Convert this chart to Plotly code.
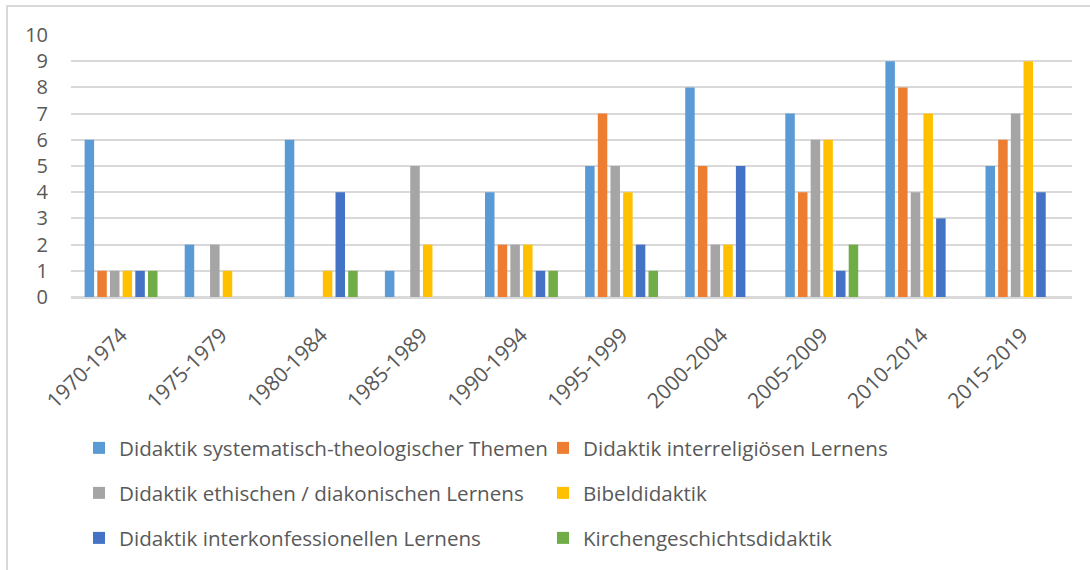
import plotly.graph_objects as go

categories = ["1970-1974", "1975-1979", "1980-1984", "1985-1989", "1990-1994",
              "1995-1999", "2000-2004", "2005-2009", "2010-2014", "2015-2019"]
series_names = [
    "Didaktik systematisch-theologischer Themen",
    "Didaktik interreligiösen Lernens",
    "Didaktik ethischen / diakonischen Lernens",
    "Bibeldidaktik",
    "Didaktik interkonfessionellen Lernens",
    "Kirchengeschichtsdidaktik",
]
systematisch = [6, 2, 6, 1, 4, 5, 8, 7, 9, 5]
interreligioes = [1, 0, 0, 0, 2, 7, 5, 4, 8, 6]
ethisch = [1, 2, 0, 5, 2, 5, 2, 6, 4, 7]
bibel = [1, 1, 1, 2, 2, 4, 2, 6, 7, 9]
interkonfessionell = [1, 0, 4, 0, 1, 2, 5, 1, 3, 4]
kirchengeschichte = [1, 0, 1, 0, 1, 1, 0, 2, 0, 0]
colors = ["#5B9BD5", "#ED7D31", "#A5A5A5", "#FFC000", "#4472C4", "#70AD47"]

values = [systematisch, interreligioes, ethisch, bibel, interkonfessionell, kirchengeschichte]
legend_ids = ["legend", "legend", "legend2", "legend2", "legend3", "legend3"]

FONT = "Open Sans"
TXT = "#595959"

fig = go.Figure()
for name, vals, col, lg in zip(series_names, values, colors, legend_ids):
    fig.add_trace(go.Bar(
        x=categories, y=vals, name=name,
        marker=dict(color=col, line=dict(width=0)),
        legend=lg,
    ))

L, R, T, B = 71, 18, 35, 273
W, H = 1090, 570
pw, ph = W - L - R, H - T - B

def px_x(x):
    return (x - L) / pw

def px_y(y):
    return (H - B - y) / ph

legend_common = dict(
    orientation="h", entrywidth=419, entrywidthmode="pixels",
    xanchor="left", yanchor="middle", x=px_x(79),
    font=dict(family=FONT, size=20.6, color=TXT),
    bgcolor="rgba(0,0,0,0)", traceorder="normal",
)

fig.update_layout(
    width=W, height=H,
    margin=dict(l=L, r=R, t=T, b=B, pad=0),
    paper_bgcolor="white", plot_bgcolor="white",
    barmode="group", bargap=0.24, bargroupgap=0.25,
    font=dict(family=FONT, color=TXT),
    legend=dict(legend_common, y=px_y(448)),
    legend2=dict(legend_common, y=px_y(493)),
    legend3=dict(legend_common, y=px_y(538)),
    xaxis=dict(
        tickangle=-45, tickfont=dict(family=FONT, size=21, color=TXT),
        showgrid=False, showline=True, linecolor="#D9D9D9", linewidth=1.5,
        ticks="", ticklabelstandoff=16,
    ),
    yaxis=dict(
        range=[0, 10], dtick=1, tickfont=dict(family=FONT, size=20, color=TXT),
        showgrid=True, gridcolor="#D9D9D9", gridwidth=1.5,
        zeroline=True, zerolinecolor="#D9D9D9", zerolinewidth=1.5,
        ticks="", ticklabelstandoff=22,
    ),
    shapes=[dict(
        type="rect", xref="paper", yref="paper",
        x0=px_x(7), x1=px_x(1100), y0=px_y(580), y1=px_y(6),
        line=dict(color="#D9D9D9", width=2), fillcolor="rgba(0,0,0,0)",
        layer="below",
    )],
)

fig.write_html("out.html", config={"displayModeBar": False},
               post_script="document.body.style.margin='0';")
